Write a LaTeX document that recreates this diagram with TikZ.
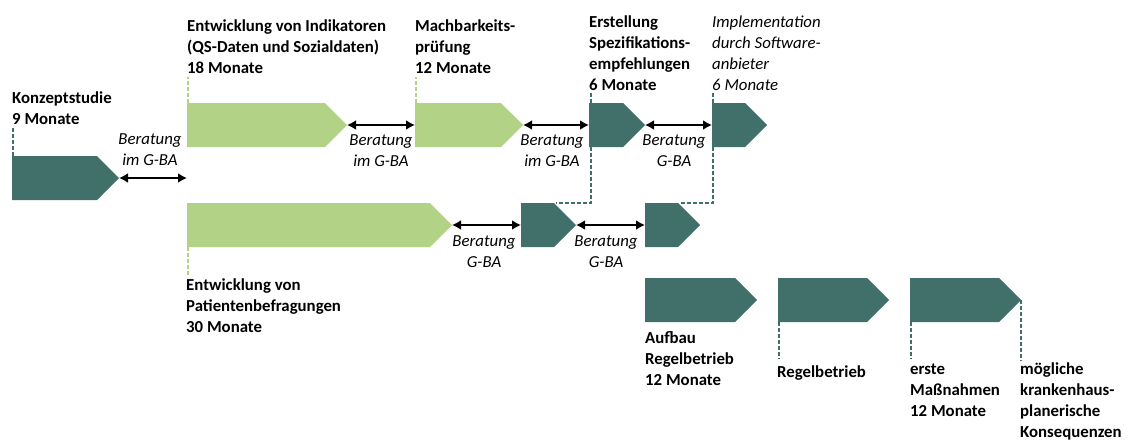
\documentclass[tikz,border=0pt]{standalone}
\usepackage{fontspec}
\setmainfont{Carlito}
\usetikzlibrary{shapes.symbols,arrows.meta,calc}
\definecolor{qsdark}{HTML}{41706B}
\definecolor{qslight}{HTML}{B2D386}
\newcommand{\qsfont}{\fontsize{16.8}{20.7}\selectfont}
\tikzset{
  phase/.style={signal, signal to=east, signal pointer angle=90, minimum height=44pt,
    inner sep=0pt, outer sep=0pt, anchor=west},
  dark/.style={phase, fill=qsdark},
  light/.style={phase, fill=qslight},
  % base = baseline of the last line
  lbl/.style={anchor=base west, align=left, inner sep=0pt, font=\qsfont\bfseries},
  beratung/.style={anchor=base, align=center, inner sep=0pt, font=\qsfont\itshape},
  gap/.style={{Latex[length=9pt,width=10pt]}-{Latex[length=9pt,width=10pt]}, line width=2.4pt},
  tickdark/.style={draw=qsdark, dash pattern=on 4pt off 2pt, line width=1.3pt},
  ticklight/.style={draw=qslight, dash pattern=on 4pt off 2pt, line width=1.3pt}
}
\begin{document}
\begin{tikzpicture}[x=1pt,y=-1pt]
  \useasboundingbox (0,0) rectangle (1130,440);
  % phases
  \node[dark, minimum width=107pt] (konz) at (12,178) {};
  \node[light, minimum width=160pt] (ind) at (187,125) {};
  \node[light, minimum width=108pt] (mach) at (415,125) {};
  \node[dark, minimum width=56pt] (spez) at (589,125) {};
  \node[dark, minimum width=55pt] (impl) at (712,125) {};
  \node[light, minimum width=265pt] (pat) at (187,225) {};
  \node[dark, minimum width=55pt] (spezpat) at (521,225) {};
  \node[dark, minimum width=55pt] (implpat) at (645,225) {};
  \node[dark, minimum width=112pt] (aufb) at (645,300) {};
  \node[dark, minimum width=111pt] (regb) at (778,300) {};
  \node[dark, minimum width=111pt] (massn) at (910,300) {};
  % labels
  \node[lbl] (konzlbl) at (12,124) {Konzeptstudie\\9 Monate};
  \node[lbl] (indlbl) at (187,73) {Entwicklung von Indikatoren\\(QS-Daten und Sozialdaten)\\18 Monate};
  \node[lbl] (machlbl) at (415,73) {Machbarkeits-\\prüfung\\12 Monate};
  \node[lbl] (spezlbl) at (589,90) {Erstellung\\Spezifikations-\\empfehlungen\\6 Monate};
  \node[lbl, font=\qsfont\itshape] (impllbl) at (712,90) {Implementation\\durch Software-\\anbieter\\6 Monate};
  \node[lbl] (patlbl) at (186,332) {Entwicklung von\\Patientenbefragungen\\30 Monate};
  \node[lbl] (aufblbl) at (645,385) {Aufbau\\Regelbetrieb\\12 Monate};
  \node[lbl] (regblbl) at (777,377) {Regelbetrieb};
  \node[lbl] (massnlbl) at (910,416) {erste\\Maßnahmen\\12 Monate};
  \node[lbl] (konslbl) at (1020,437) {mögliche\\krankenhaus-\\planerische\\Konsequenzen};
  % dashed ticks
  \draw[tickdark] (konz.north west) ++(1,0) -- ++(0,-28);
  \draw[ticklight] (ind.north west) ++(1,0) -- ++(0,-26);
  \draw[ticklight] (mach.north west) ++(1,0) -- ++(0,-26);
  \draw[tickdark] (spez.north west) ++(2,-10) |- ($(spezpat.north west)+(35,0)$);
  \draw[tickdark] (impl.north west) ++(1,-10) |- ($(implpat.north west)+(35,0)$);
  \draw[ticklight] (pat.south west) ++(1,0) -- ++(0,30);
  \draw[tickdark] (regb.south west) ++(1,0) -- ++(0,37);
  \draw[tickdark] (massn.south west) ++(1,0) -- ++(0,37);
  \draw[tickdark] (massn.east) -- ++(0,61);
  % Beratung
  \draw[gap] (konz.east) -- (konz.east -| ind.west);
  \draw[gap] (ind.east) -- (mach.west);
  \draw[gap] (mach.east) -- (spez.west);
  \draw[gap] (spez.east) -- (impl.west);
  \draw[gap] (pat.east) -- (spezpat.west);
  \draw[gap] (spezpat.east) -- (implpat.west);
  \node[beratung] (ber1) at (150,165) {Beratung\\im G-BA};
  \node[beratung] (ber2) at (381,166) {Beratung\\im G-BA};
  \node[beratung] (ber3) at (552,166) {Beratung\\im G-BA};
  \node[beratung] (ber4) at (674,166) {Beratung\\G-BA};
  \node[beratung] (ber5) at (484,267) {Beratung\\G-BA};
  \node[beratung] (ber6) at (606,267) {Beratung\\G-BA};
\end{tikzpicture}
\end{document}
